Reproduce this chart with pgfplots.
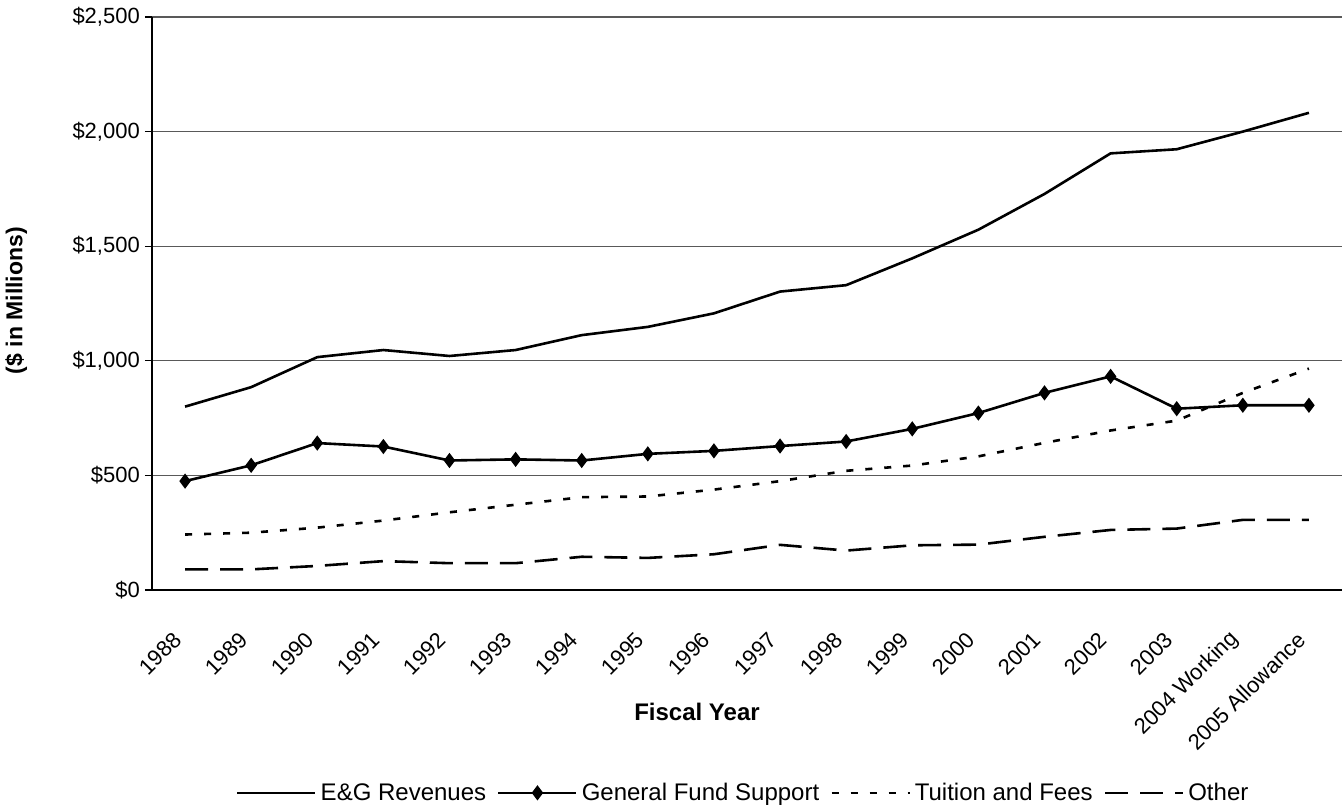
\documentclass[border=0pt]{standalone}
\usepackage{fontspec}
\setmainfont{Liberation Sans}
\usepackage{pgfplots}
\pgfplotsset{compat=1.18}

% Fiscal-year revenue sources ($ in millions), categories 0..17 = 1988 .. 2005 Allowance
\pgfplotstableread{
x  eg    gf   tf   oth
0  800   475  242  90
1  885   544  250  90
2  1016  641  272  105
3  1047  626  303  126
4  1021  565  339  117
5  1047  570  372  117
6  1112  565  405  145
7  1148  594  408  140
8  1207  607  438  156
9  1302  628  475  197
10 1330  648  520  172
11 1447  703  543  195
12 1572  772  583  198
13 1728  860  642  232
14 1905  932  696  262
15 1923  791  739  268
16 2000  806  860  306
17 2082  806  966  306
}\revenues

\begin{document}
\begin{tikzpicture}
\path[use as bounding box] (-152pt,-219pt) rectangle (1190pt,590pt);
\begin{axis}[
  at={(0pt,0pt)}, anchor=south west,
  scale only axis,
  width=1190pt, height=573pt,
  font=\fontsize{22}{26}\selectfont,
  xmin=-0.5, xmax=17.5,
  ymin=0, ymax=2500,
  axis lines=left,
  axis line style={-, line width=1.2pt, black},
  ytick={0,500,1000,1500,2000,2500},
  yticklabels={\$0,\$500,{\$1,000},{\$1,500},{\$2,000},{\$2,500}},
  ymajorgrids,
  grid style={line width=1.2pt, gray!70!black},
  tick align=outside,
  major tick length=7pt,
  minor tick length=7pt,
  tick style={line width=1.2pt, black},
  xtick={0,...,17},
  xticklabels={1988,1989,1990,1991,1992,1993,1994,1995,1996,1997,1998,1999,2000,2001,2002,2003,2004 Working,2005 Allowance},
  minor xtick={-0.5,0.5,...,17.5},
  xtick style={draw=none},
  minor x tick style={line width=1.2pt, black},
  xticklabel style={xshift=-7.5pt, yshift=-39pt, rotate=45, anchor=east, inner sep=0pt},
  yticklabel style={anchor=east, inner sep=0pt, xshift=-5pt},
  xlabel={\bfseries Fiscal Year},
  xlabel style={at={(axis description cs:0.458,-0.213)}, anchor=center, font=\fontsize{24}{28}\selectfont},
  ylabel={\bfseries (\$ in Millions)},
  ylabel style={at={(axis description cs:-0.114,0.505)}, anchor=center, rotate=0, font=\fontsize{23}{27}\selectfont},
  legend columns=4,
  legend style={at={(axis description cs:0.4977,-0.354)}, anchor=center, draw=none,
    font=\fontsize{24}{28}\selectfont,
    /tikz/every even column/.append style={column sep=7pt},
    nodes={inner sep=4pt}},
  legend image code/.code={\draw[mark repeat=2, mark phase=2, #1] plot coordinates {(0pt,0pt) (39pt,0pt) (78pt,0pt)};},
  every axis plot/.append style={line width=2.6pt, black},
]
\addplot[no marks] table[x=x, y=eg] {\revenues};
\addlegendentry{E\&G Revenues}
\addplot[mark=diamond*, mark size=5.5pt, mark options={solid}] table[x=x, y=gf] {\revenues};
\addlegendentry{General Fund Support}
\addplot[no marks, dash pattern=on 7pt off 12pt] table[x=x, y=tf] {\revenues};
\addlegendentry{Tuition and Fees}
\addplot[no marks, dash pattern=on 23pt off 12pt] table[x=x, y=oth] {\revenues};
\addlegendentry{Other}
\end{axis}
\end{tikzpicture}
\end{document}
